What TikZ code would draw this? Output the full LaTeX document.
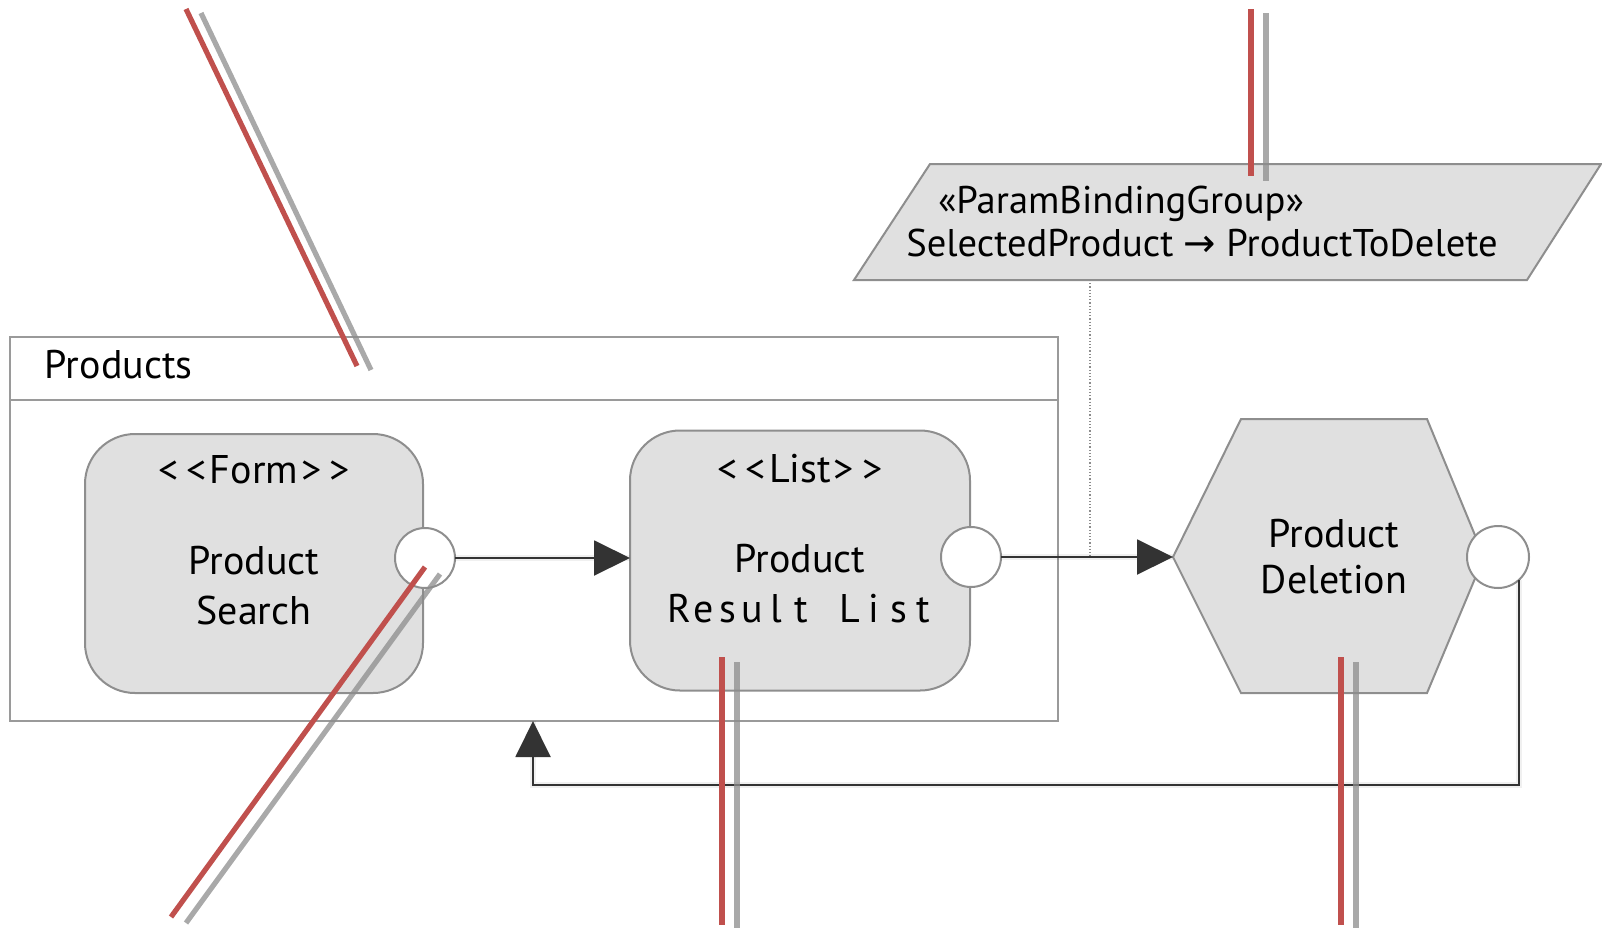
\documentclass[tikz,border=0pt]{standalone}
\usepackage{fontspec}
\setmainfont{PT Sans}
\newfontfamily\symfont{DejaVu Sans}
\usetikzlibrary{arrows.meta,calc}
\definecolor{nodefill}{HTML}{E0E0E0}
\definecolor{nodeline}{HTML}{8E8E8E}
\definecolor{frameline}{HTML}{9A9A9A}
\definecolor{connline}{HTML}{333333}
\definecolor{leadred}{HTML}{C0504D}
\definecolor{leadgray}{HTML}{8C8C8C}
\newcommand\lb[1]{\makebox[12.2pt][c]{#1}}
\newcommand\stereo[1]{<\kern4pt<\kern1.5pt#1\kern1.5pt>\kern4pt>}
\begin{document}
\begin{tikzpicture}[x=0.5pt,y=-0.5pt,
  every node/.style={inner sep=0pt, outer sep=0pt},
  txt/.style={font=\fontsize{20}{24}\selectfont, anchor=base, text=black},
  ptxt/.style={font=\fontsize{19.3}{23}\selectfont, anchor=base, text=black},
  boxnode/.style={draw=nodeline, fill=nodefill, line width=1pt, rounded corners=25pt,
    minimum width=169pt, minimum height=129.5pt},
  portnode/.style={draw=nodeline, fill=white, line width=1pt, circle, minimum size=30pt},
  framebox/.style={draw=frameline, line width=1pt, minimum width=524pt, minimum height=192pt},
  conn/.style={draw=connline, line width=1pt, -{Triangle[length=18pt,width=17.5pt]}},
  connshadow/.style={draw=black, line width=3pt, opacity=0.06, shift={(3,5)}},
  leadr/.style={draw=leadred, line width=2.6pt},
  leadg/.style={draw=leadgray, line width=2.6pt, opacity=0.75},
  hexshape/.style={draw=nodeline, fill=nodefill, line width=1pt, line join=miter},
]
\useasboundingbox (0,0) rectangle (1602,928);

% frame
\node[framebox] (frame) at (534,529) {};
\draw[draw=frameline, line width=1pt] (frame.north west) ++(0,63) -- ++(1048,0);
\node[txt, anchor=base west] (ptitle) at (45,378) {Products};

% parallelogram
\coordinate (pBL) at (854,280);
\coordinate (pTL) at (930,164);
\coordinate (pTR) at (1601,164);
\coordinate (pBR) at (1527,280);
\draw[hexshape] (pBL) -- (pTL) -- (pTR) -- (pBR) -- cycle;
\node[ptxt] (pt1) at (1121,213) {«ParamBindingGroup»};
\node[ptxt] (pt2) at (1202,256) {SelectedProduct {\symfont →} ProductToDelete};

% form node
\node[boxnode] (form) at (254,563.5) {};
\node[txt] (ft1) at (254,483) {\stereo{Form}};
\node[txt] (ft2) at (254,574) {Product};
\node[txt] (ft3) at (254,624) {Search};
\node[portnode] (port1) at (425,558) {};

% list node
\node[boxnode, minimum width=170pt, minimum height=130pt] (list) at (800,560.5) {};
\node[txt] (lt1) at (800,482) {\stereo{List}};
\node[txt] (lt2) at (800,572) {Product};
\node[txt] (lt3) at (801,622) {\lb{R}\lb{e}\lb{s}\lb{u}\lb{l}\lb{t}\lb{\ }\lb{L}\lb{i}\lb{s}\lb{t}};
\node[portnode] (port2) at (971,557) {};

% hexagon
\coordinate (hL) at (1173,557);
\coordinate (hTL) at (1241,419);
\coordinate (hTR) at (1427,419);
\coordinate (hR) at (1484,557);
\coordinate (hBR) at (1427,693);
\coordinate (hBL) at (1241,693);
\draw[hexshape] (hL) -- (hTL) -- (hTR) -- (hR) -- (hBR) -- (hBL) -- cycle;
\node[txt] (ht1) at (1334,547) {Product};
\node[txt] (ht2) at (1334,593) {Deletion};
\node[portnode, minimum size=31pt] (port3) at (1498,557) {};

% connectors
\coordinate (pb) at (1090,280);
\coordinate (pj) at (1090,557);
\draw[draw=gray!90, line width=0.6pt, densely dotted] (pb) -- (pj);
\coordinate (fbc) at (533,785);
\coordinate (fb) at (533,721);
\draw[connshadow] (port1.east) -- (port1.east -| list.west);
\draw[connshadow] (port2.east) -- (hL);
\draw[connshadow] (port3.-47) |- (fbc) -- (fb);
\draw[conn] (port1.east) -- (port1.east -| list.west);
\draw[conn] (port2.east) -- (hL);
\draw[conn] (port3.-47) |- (fbc) -- (fb);

% leader strokes
\coordinate (a1) at (186,9);   \coordinate (a2) at (357,366);
\coordinate (b1) at (201,13);  \coordinate (b2) at (371,370);
\draw[leadr] (a1) -- (a2);
\draw[leadg] (b1) -- (b2);
\coordinate (c1) at (425,567); \coordinate (c2) at (171,917);
\coordinate (d1) at (440,574); \coordinate (d2) at (186,923);
\draw[leadr] (c1) -- (c2);
\draw[leadg] (d1) -- (d2);
\coordinate (e1) at (722,657); \coordinate (e2) at (722,925);
\coordinate (f1) at (737,662); \coordinate (f2) at (737,928);
\draw[leadr] (e1) -- (e2);
\draw[leadg] (f1) -- (f2);
\coordinate (g1) at (1341,657); \coordinate (g2) at (1341,925);
\coordinate (h1) at (1356,662); \coordinate (h2) at (1356,928);
\draw[leadr] (g1) -- (g2);
\draw[leadg] (h1) -- (h2);
\coordinate (i1) at (1251,9);   \coordinate (i2) at (1251,176);
\coordinate (j1) at (1266,13);  \coordinate (j2) at (1266,181);
\draw[leadr] (i1) -- (i2);
\draw[leadg] (j1) -- (j2);
\end{tikzpicture}
\end{document}
